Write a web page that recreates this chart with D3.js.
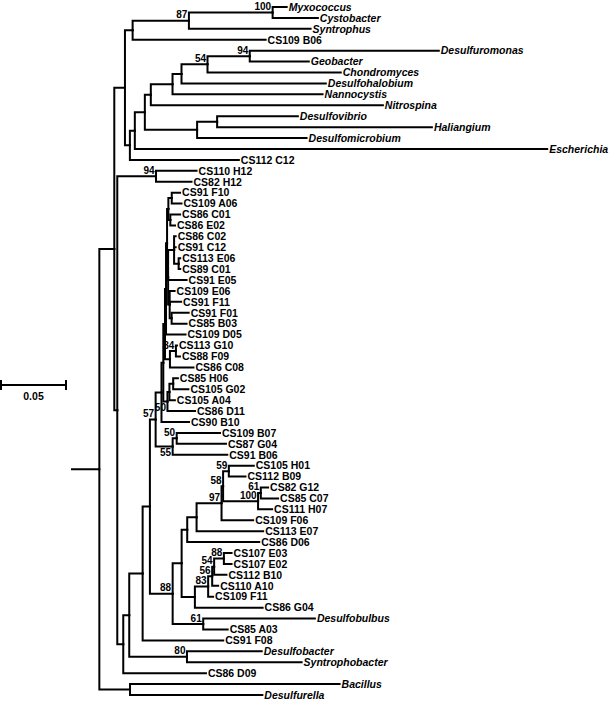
<!DOCTYPE html>
<html>
<head>
<meta charset="utf-8">
<script src="https://cdn.jsdelivr.net/npm/d3@7"></script>
<style>
  html, body { margin: 0; padding: 0; background: #fff; }
  svg { display: block; }
  text { font-family: "Liberation Sans", Arial, sans-serif; font-weight: bold; fill: #000; }
</style>
</head>
<body>
<svg id="chart" width="609" height="702"></svg>
<script>
// ---- data: branches [node, parent, branch length (substitutions/site)] in tree order ----
const rootStem = 0.0218;
const branches = [
  ["R", "", 0],
  ["n114","R",0.0115],
  ["n125","n114",0.0082],
  ["n132","n125",0.0059],
  ["n87","n132",0.0433],
  ["n100a","n87",0.0644],
  ["Myxococcus","n100a",0.0108],
  ["Cystobacter","n100a",0.0348],
  ["Syntrophus","n87",0.0936],
  ["CS109 B06","n132",0.1023],
  ["n130","n125",0.0038],
  ["n135","n130",0.0038],
  ["n145","n135",0.0077],
  ["n151","n145",0.0046],
  ["n172","n151",0.0167],
  ["n181","n172",0.0069],
  ["n54a","n181",0.0200],
  ["n94a","n54a",0.0325],
  ["Desulfuromonas","n94a",0.1454],
  ["Geobacter","n94a",0.0454],
  ["Chondromyces","n54a",0.1025],
  ["Desulfohalobium","n181",0.1110],
  ["Nannocystis","n172",0.1154],
  ["Nitrospina","n151",0.1785],
  ["n197","n145",0.0402],
  ["n217","n197",0.0154],
  ["Desulfovibrio","n217",0.0621],
  ["Haliangium","n217",0.1652],
  ["Desulfomicrobium","n197",0.0842],
  ["Escherichia","n135",0.3172],
  ["CS112 C12","n130",0.0838],
  ["n117","n114",0.0023],
  ["n94b","n117",0.0298],
  ["CS110 H12","n94b",0.0312],
  ["CS82 H12","n94b",0.0273],
  ["n123","n117",0.0046],
  ["n129","n123",0.0046],
  ["n142","n129",0.0103],
  ["n150","n142",0.0056],
  ["n57","n150",0.0044],
  ["L1","n57",0.0045],
  ["L2","L1",0.0014],
  ["L3","L2",0.0013],
  ["nA0","L3",0.0008],
  ["nA1","nA0",0.0008],
  ["nA","nA1",0.0010],
  ["nF10","nA",0.0026],
  ["CS91 F10","nF10",0.0064],
  ["CS109 A06","nF10",0.0075],
  ["nC01","nA",0.0015],
  ["CS86 C01","nC01",0.0075],
  ["CS86 E02","nC01",0.0036],
  ["nB1","nA1",0.0008],
  ["nC02","nB1",0.0046],
  ["CS86 C02","nC02",0.0012],
  ["CS91 C12","nC02",0.0012],
  ["nE06","nC02",0.0035],
  ["CS113 E06","nE06",0.0012],
  ["CS89 C01","nE06",0.0012],
  ["CS91 E05","nB1",0.0142],
  ["nB2","nB1",0.0012],
  ["CS109 E06","nB2",0.0038],
  ["CS91 F11","nB2",0.0088],
  ["nB3","nB2",0.0015],
  ["CS91 F01","nB3",0.0131],
  ["CS85 B03","nB3",0.0115],
  ["CS109 D05","nA0",0.0150],
  ["nC08","L3",0.0038],
  ["n84","nC08",0.0046],
  ["CS113 G10","n84",0.0008],
  ["CS88 F09","n84",0.0031],
  ["CS86 C08","nC08",0.0181],
  ["n50a","L2",0.0032],
  ["nA04","n50a",0.0015],
  ["nH06","nA04",0.0029],
  ["CS85 H06","nH06",0.0036],
  ["CS105 G02","nH06",0.0117],
  ["CS105 A04","nA04",0.0042],
  ["CS86 D11","n50a",0.0212],
  ["CS90 B10","L1",0.0212],
  ["n55","n57",0.0131],
  ["n50b","n55",0.0031],
  ["CS109 B07","n50b",0.0333],
  ["CS87 G04","n50b",0.0379],
  ["CS91 B06","n55",0.0420],
  ["n88a","n150",0.0175],
  ["n181b","n88a",0.0069],
  ["n187","n181b",0.0043],
  ["n196","n187",0.0072],
  ["n97","n196",0.0192],
  ["n58","n97",0.0012],
  ["n59","n58",0.0044],
  ["CS105 H01","n59",0.0192],
  ["CS112 B09","n59",0.0128],
  ["n100b","n58",0.0269],
  ["n61a","n100b",0.0021],
  ["CS82 G12","n61a",0.0056],
  ["CS85 C07","n61a",0.0133],
  ["CS111 H07","n100b",0.0108],
  ["CS109 F06","n97",0.0243],
  ["CS113 E07","n196",0.0512],
  ["CS86 D06","n187",0.0554],
  ["n195","n181b",0.0102],
  ["n83","n195",0.0102],
  ["n56","n83",0.0031],
  ["n54b","n56",0.0015],
  ["n88b","n54b",0.0075],
  ["CS107 E03","n88b",0.0059],
  ["CS107 E02","n88b",0.0059],
  ["CS112 B10","n54b",0.0095],
  ["CS110 A10","n56",0.0046],
  ["CS109 F11","n83",0.0038],
  ["CS86 G04","n195",0.0521],
  ["n61b","n88a",0.0235],
  ["Desulfobulbus","n61b",0.0859],
  ["CS85 A03","n61b",0.0188],
  ["CS91 F08","n142",0.0620],
  ["n80","n129",0.0444],
  ["Desulfobacter","n80",0.0575],
  ["Syntrophobacter","n80",0.0882],
  ["CS86 D09","n123",0.0636],
  ["nBac","R",0.0236],
  ["Bacillus","nBac",0.1612],
  ["Desulfurella","nBac",0.1018]
];

// bootstrap support values [node, value]
const supportValues = [
  ["n100a",100],["n87",87],["n94a",94],["n54a",54],["n94b",94],["n84",84],
  ["n50a",50],["n57",57],["n50b",50],["n55",55],["n59",59],["n58",58],
  ["n61a",61],["n100b",100],["n97",97],["n88b",88],["n54b",54],["n56",56],
  ["n83",83],["n88a",88],["n61b",61],["n80",80]
];
// support labels drawn below their branch
const supportBelow = ["n50a","n55"];

// reference taxa shown in italics
const genusLeaves = ["Myxococcus","Cystobacter","Syntrophus","Desulfuromonas","Geobacter",
  "Chondromyces","Desulfohalobium","Nannocystis","Nitrospina","Desulfovibrio","Haliangium",
  "Desulfomicrobium","Escherichia","Desulfobulbus","Desulfobacter","Syntrophobacter",
  "Bacillus","Desulfurella"];

const scaleBarValue = 0.05;
const scaleBarLabel = "0.05";

// ---- layout ----
const svg = d3.select("#chart");
const root = d3.stratify()
  .id(d => d[0])
  .parentId(d => d[1] === "" ? null : d[1])(branches);

// cumulative distances
root.eachBefore(n => {
  n.dist = n.parent ? n.parent.dist + n.data[2] : rootStem;
});

const x = d3.scaleLinear().domain([0, 1]).range([71, 1371]);
const leaves = root.leaves();
const y = d3.scalePoint().domain(leaves.map(d => d.id)).range([7, 695]);

root.eachAfter(n => {
  n.px = x(n.dist);
  if (!n.children) n.py = y(n.id);
  else n.py = (n.children[0].py + n.children[n.children.length - 1].py) / 2;
});

const g = svg.append("g");

// root stem
g.append("path")
  .attr("d", `M${x(0)},${root.py}H${root.px}`)
  .attr("fill", "none").attr("stroke", "#000").attr("stroke-width", 2);

// links (elbow)
g.selectAll("path.link")
  .data(root.links())
  .join("path")
  .attr("class", "link")
  .attr("d", l => `M${l.source.px},${l.source.py}V${l.target.py}H${l.target.px}`)
  .attr("fill", "none")
  .attr("stroke", "#000")
  .attr("stroke-width", 2)
  .attr("stroke-linejoin", "miter")
  .attr("stroke-linecap", "square");

// leaf labels
g.selectAll("text.leaf")
  .data(leaves)
  .join("text")
  .attr("class", "leaf")
  .attr("x", d => d.px + 2)
  .attr("y", d => d.py)
  .attr("dy", "0.36em")
  .attr("font-size", "10.5px")
  .attr("font-style", d => genusLeaves.includes(d.id) ? "italic" : "normal")
  .text(d => d.id);

// support values
const supMap = new Map(supportValues);
const internal = root.descendants().filter(n => supMap.has(n.id));
g.selectAll("text.sup")
  .data(internal)
  .join("text")
  .attr("class", "sup")
  .attr("x", d => d.px - 1.5)
  .attr("y", d => supportBelow.includes(d.id) ? d.py + 9.5 : d.py - 2.5)
  .attr("text-anchor", "end")
  .attr("font-size", "10px")
  .text(d => supMap.get(d.id));

// scale bar
const barLen = x(scaleBarValue) - x(0);
const bx0 = 1, by = 385;
const bar = svg.append("g");
bar.append("path")
  .attr("d", `M${bx0},${by}H${bx0 + barLen}M${bx0},${by - 5}V${by + 5}M${bx0 + barLen},${by - 5}V${by + 5}`)
  .attr("stroke", "#000").attr("stroke-width", 2).attr("fill", "none");
bar.append("text")
  .attr("x", bx0 + barLen / 2)
  .attr("y", by + 15)
  .attr("text-anchor", "middle")
  .attr("font-size", "10.5px")
  .text(scaleBarLabel);
</script>
</body>
</html>
